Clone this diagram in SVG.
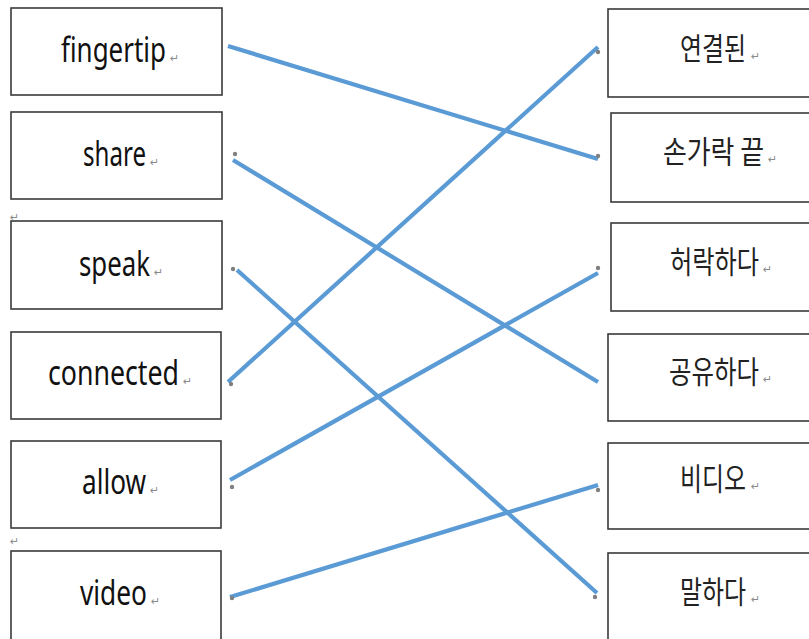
<svg xmlns="http://www.w3.org/2000/svg" width="809" height="639" viewBox="0 0 809 639">
<style>
.box{fill:#fff;stroke:#3a3a3a;stroke-width:1.6}
.en{font-family:"Noto Sans","Liberation Sans",sans-serif;font-size:34px;fill:#111}
.ko{font-family:"Noto Sans CJK KR","Noto Sans",sans-serif;font-size:31px;fill:#222}
.pm{font-family:"DejaVu Sans",sans-serif;font-size:11px;fill:#8a8a8a}
.ln{stroke:#5b9bd5;stroke-width:4.2;fill:none}
.dot{fill:#808080}
</style>
<rect width="809" height="639" fill="#fff"/>
<text class="pm" x="10" y="221">↵</text>
<text class="pm" x="10" y="545">↵</text>
<g id="n-fingertip"><rect class="box" x="11" y="8" width="211" height="87"/><text class="en" transform="translate(61,62) scale(0.74,1)" textLength="141.9" lengthAdjust="spacingAndGlyphs">fingertip</text><text class="pm" x="170" y="62">↵</text></g>
<g id="n-share"><rect class="box" x="11" y="112" width="211" height="87"/><text class="en" transform="translate(83,166) scale(0.74,1)" textLength="85.1" lengthAdjust="spacingAndGlyphs">share</text><text class="pm" x="150" y="166">↵</text></g>
<g id="n-speak"><rect class="box" x="11" y="221" width="211" height="88"/><text class="en" transform="translate(79,276) scale(0.74,1)" textLength="95.9" lengthAdjust="spacingAndGlyphs">speak</text><text class="pm" x="154" y="276">↵</text></g>
<g id="n-connected"><rect class="box" x="11" y="332" width="210" height="87"/><text class="en" transform="translate(48,385) scale(0.74,1)" textLength="177" lengthAdjust="spacingAndGlyphs">connected</text><text class="pm" x="183" y="385">↵</text></g>
<g id="n-allow"><rect class="box" x="11" y="441" width="210" height="87"/><text class="en" transform="translate(82,494) scale(0.74,1)" textLength="86.5" lengthAdjust="spacingAndGlyphs">allow</text><text class="pm" x="150" y="494">↵</text></g>
<g id="n-video"><rect class="box" x="11" y="551" width="210" height="100"/><text class="en" transform="translate(80,605) scale(0.74,1)" textLength="90.5" lengthAdjust="spacingAndGlyphs">video</text><text class="pm" x="151" y="605">↵</text></g>
<g id="n-yeongyeol"><rect class="box" x="608" y="9" width="210" height="88"/><text class="ko" transform="translate(680,60) scale(0.72,1)" textLength="91.7" lengthAdjust="spacingAndGlyphs">연결된</text><text class="pm" x="751" y="60">↵</text></g>
<g id="n-songarak"><rect class="box" x="611" y="113" width="210" height="89"/><text class="ko" transform="translate(663,163) scale(0.72,1)" textLength="140.3" lengthAdjust="spacingAndGlyphs">손가락 끝</text><text class="pm" x="768" y="163">↵</text></g>
<g id="n-heorak"><rect class="box" x="611" y="223" width="210" height="88"/><text class="ko" transform="translate(670,273) scale(0.72,1)" textLength="123.6" lengthAdjust="spacingAndGlyphs">허락하다</text><text class="pm" x="763" y="273">↵</text></g>
<g id="n-gongyu"><rect class="box" x="608" y="334" width="210" height="87"/><text class="ko" transform="translate(669,383) scale(0.72,1)" textLength="125" lengthAdjust="spacingAndGlyphs">공유하다</text><text class="pm" x="763" y="383">↵</text></g>
<g id="n-bidio"><rect class="box" x="608" y="443" width="210" height="86"/><text class="ko" transform="translate(680,490) scale(0.72,1)" textLength="91.7" lengthAdjust="spacingAndGlyphs">비디오</text><text class="pm" x="751" y="490">↵</text></g>
<g id="n-malhada"><rect class="box" x="608" y="553" width="210" height="100"/><text class="ko" transform="translate(680,603) scale(0.72,1)" textLength="91.7" lengthAdjust="spacingAndGlyphs">말하다</text><text class="pm" x="751" y="603">↵</text></g>
<g id="connectors">
<line class="ln" x1="228" y1="46" x2="598" y2="159"/>
<line class="ln" x1="233" y1="160" x2="598" y2="382"/>
<line class="ln" x1="237" y1="270" x2="597" y2="593"/>
<line class="ln" x1="228" y1="382" x2="598" y2="47"/>
<line class="ln" x1="230" y1="480" x2="598" y2="273"/>
<line class="ln" x1="230" y1="597" x2="598" y2="485"/>
<circle class="dot" cx="235" cy="154" r="2.2"/>
<circle class="dot" cx="233" cy="269" r="2.2"/>
<circle class="dot" cx="231" cy="384" r="2.2"/>
<circle class="dot" cx="232" cy="487" r="2.2"/>
<circle class="dot" cx="232" cy="598" r="2.2"/>
<circle class="dot" cx="598" cy="52" r="2.2"/>
<circle class="dot" cx="598" cy="156" r="2.2"/>
<circle class="dot" cx="598" cy="268" r="2.2"/>
<circle class="dot" cx="598" cy="490" r="2.2"/>
<circle class="dot" cx="595" cy="597" r="2.2"/>
</g>
</svg>
